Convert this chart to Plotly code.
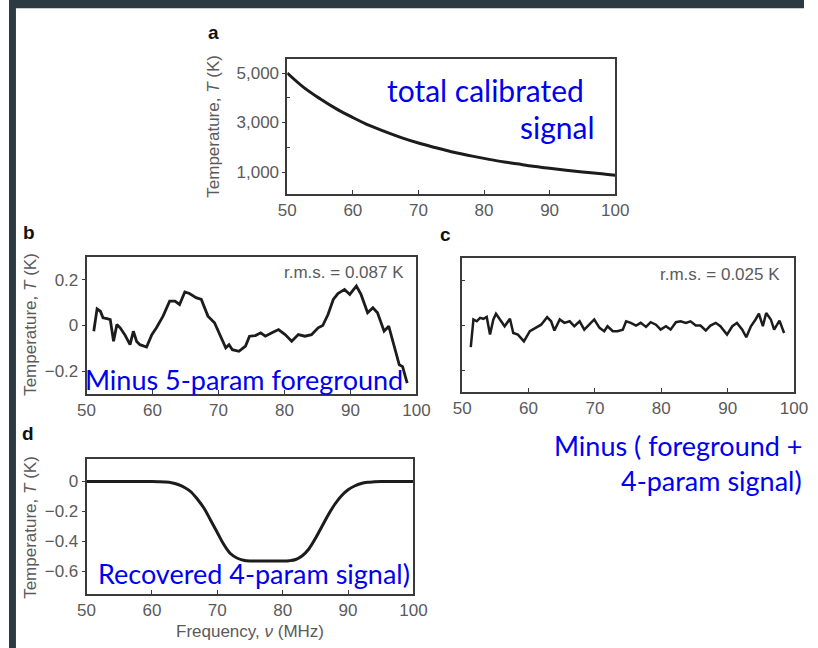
import plotly.graph_objects as go

W, H = 818, 648
OX, SX = 8.0, 0.978  # horizontal offset / scale of the page as displayed

# ---- data -------------------------------------------------------------
# a: total calibrated sky temperature (K)
freq_a = [50, 52.5, 55, 57.5, 60, 62.5, 65, 67.5, 70, 72.5, 75, 77.5, 80,
          82.5, 85, 87.5, 90, 92.5, 95, 97.5, 100]
temp_a = [5000, 4420, 3960, 3550, 3200, 2880, 2620, 2380, 2170, 1990, 1820,
          1680, 1550, 1430, 1330, 1230, 1150, 1070, 1000, 940, 870]

# b: residual after removing the 5-parameter foreground (K)
freq_b = [51.1, 51.6, 52.1, 52.5, 53.1, 53.6, 54.1, 54.6, 55.1, 55.8, 56.6,
          57.1, 57.6, 58.1, 59.1, 59.9, 60.6, 61.6, 62.6, 63.4, 64.1, 64.9,
          65.6, 66.6, 67.4, 68.4, 69.4, 70.1, 71.1, 71.6, 72.1, 73.1, 74.1,
          74.7, 75.6, 76.4, 77.1, 78.1, 79.1, 80.1, 81.1, 82.1, 83.1, 84.1,
          85.1, 85.8, 86.6, 87.4, 88.1, 89.1, 89.9, 90.9, 91.6, 92.6, 93.4,
          94.1, 95.1, 95.8, 96.6, 97.4, 97.9, 98.6]
temp_b = [-0.025, 0.073, 0.063, 0.034, 0.030, 0.026, -0.069, 0.004, -0.010,
          -0.040, -0.084, -0.025, -0.070, -0.084, -0.094, -0.040, -0.010,
          0.041, 0.107, 0.107, 0.092, 0.147, 0.140, 0.122, 0.114, 0.041,
          0.012, -0.032, -0.098, -0.084, -0.106, -0.113, -0.090, -0.047,
          -0.044, -0.032, -0.047, -0.032, -0.018, -0.040, -0.069, -0.040,
          -0.047, -0.040, -0.010, 0.000, 0.048, 0.114, 0.140, 0.158, 0.136,
          0.173, 0.136, 0.056, 0.078, 0.056, -0.025, -0.003, -0.091, -0.172,
          -0.180, -0.252]

# c: residual after removing foreground + 4-parameter signal (K)
freq_c = [51.3, 51.7, 52.2, 52.7, 53.2, 53.7, 54.2, 54.7, 55.1, 55.7, 56.4,
          57.2, 57.7, 58.4, 59.3, 60.2, 61.2, 61.9, 62.8, 63.4, 63.9, 64.7,
          65.4, 66.2, 66.9, 67.7, 68.4, 69.2, 69.9, 70.7, 71.4, 71.9, 72.7,
          73.4, 74.2, 74.7, 75.4, 76.2, 76.9, 77.7, 78.4, 79.2, 79.9, 80.7,
          81.4, 82.2, 82.9, 83.7, 84.4, 85.2, 85.9, 86.7, 87.4, 88.2, 88.9,
          89.9, 90.7, 91.4, 92.2, 92.8, 93.5, 94.2, 94.7, 95.3, 95.8, 96.5,
          97.0, 97.8, 98.5]
temp_c = [-0.096, 0.027, 0.019, 0.034, 0.030, 0.038, -0.040, 0.027, 0.052,
          0.027, -0.003, 0.030, -0.033, -0.040, -0.070, -0.025, -0.010,
          0.004, 0.037, 0.019, -0.022, 0.027, 0.012, 0.019, -0.003, 0.019,
          -0.018, 0.004, 0.027, -0.010, -0.025, -0.003, -0.025, -0.025,
          -0.018, 0.019, 0.012, 0.000, 0.012, -0.006, 0.015, 0.004, -0.018,
          -0.003, -0.018, 0.015, 0.019, 0.012, 0.019, 0.000, 0.000, -0.022,
          0.000, 0.012, -0.003, -0.040, -0.003, 0.012, -0.018, -0.052,
          -0.003, 0.027, 0.053, -0.003, 0.056, 0.027, -0.018, 0.022, -0.033]

# d: recovered 4-parameter absorption profile (K)
freq_d = list(range(50, 101))
temp_d = [0, 0, 0, 0, 0, 0, 0, 0, 0, 0, 0, -0.001, -0.003, -0.008, -0.020,
          -0.040, -0.070, -0.120, -0.180, -0.260, -0.340, -0.420, -0.480,
          -0.510, -0.525, -0.530, -0.530, -0.530, -0.530, -0.530, -0.530,
          -0.528, -0.520, -0.495, -0.450, -0.380, -0.300, -0.220, -0.150,
          -0.095, -0.055, -0.030, -0.013, -0.005, -0.002, 0, 0, 0, 0, 0, 0]

x_ticks = [50, 60, 70, 80, 90, 100]
a_ticks = [1000, 3000, 5000]
a_ticktext = ["1,000", "3,000", "5,000"]
a_minor = [2000, 4000]
bc_ticks = [-0.2, 0, 0.2]
d_ticks = [-0.6, -0.4, -0.2, 0]


def px(x):
    return (x - OX) / SX / W


def py(y):
    return 1 - y / H


LINE = "#1c1c1c"
AXC = "#3a3a3a"
TICKC = "#5a5a5a"
TFONT = dict(family="Liberation Sans, Arial, sans-serif", size=17, color=TICKC)

fig = go.Figure()
fig.add_trace(go.Scatter(x=freq_a, y=temp_a, mode="lines", xaxis="x", yaxis="y",
                         line=dict(color=LINE, width=3, shape="spline")))
fig.add_trace(go.Scatter(x=freq_b, y=temp_b, mode="lines", xaxis="x2", yaxis="y2",
                         line=dict(color=LINE, width=2.8)))
fig.add_trace(go.Scatter(x=freq_c, y=temp_c, mode="lines", xaxis="x3", yaxis="y3",
                         line=dict(color=LINE, width=2.5)))
fig.add_trace(go.Scatter(x=freq_d, y=temp_d, mode="lines", xaxis="x4", yaxis="y4",
                         line=dict(color=LINE, width=3, shape="spline")))


def xax(dom, anchor, labels=True):
    return dict(domain=dom, anchor=anchor, range=[50, 100], tickvals=x_ticks,
                showticklabels=labels, ticks="inside", ticklen=4, tickwidth=1.3,
                tickcolor=AXC, showline=True, mirror=True, linecolor=AXC,
                linewidth=1.6, showgrid=False, zeroline=False, tickfont=TFONT,
                fixedrange=True)


def yax(dom, anchor, rng, vals, text=None, labels=True):
    d = dict(domain=dom, anchor=anchor, range=rng, tickvals=vals,
             showticklabels=labels, ticks="outside", ticklen=3, tickwidth=1.3,
             tickcolor=AXC, showline=True, mirror=True, linecolor=AXC,
             linewidth=1.6, showgrid=False, zeroline=False, tickfont=TFONT,
             fixedrange=True)
    if text is not None:
        d["ticktext"] = text
    return d


layout = dict(
    width=W, height=H, margin=dict(l=0, r=0, t=0, b=0),
    paper_bgcolor="white", plot_bgcolor="rgba(0,0,0,0)", showlegend=False,
    xaxis=xax([px(288), px(618)], "y"),
    yaxis=yax([py(194), py(59)], "x", [111, 5566], a_ticks, a_ticktext),
    xaxis2=xax([px(86), px(418)], "y2"),
    yaxis2=yax([py(394), py(257)], "x2", [-0.30, 0.30], bc_ticks),
    xaxis3=xax([px(464), px(798)], "y3"),
    yaxis3=yax([py(392), py(258)], "x3", [-0.295, 0.30], bc_ticks, labels=False),
    xaxis4=xax([px(86), px(415)], "y4"),
    yaxis4=yax([py(594), py(459)], "x4", [-0.75, 0.15], d_ticks),
)
layout["yaxis"]["minor"] = dict(tickvals=a_minor, ticks="inside", ticklen=3,
                                tickcolor=AXC, tickwidth=1.3)
layout["yaxis3"]["ticks"] = "inside"
fig.update_layout(**layout)

# dark slide frame around the white page
fig.add_shape(type="rect", xref="paper", yref="paper", x0=0, x1=1,
              y0=py(8), y1=1, fillcolor="#2c3b42", line_width=0, layer="below")
fig.add_shape(type="rect", xref="paper", yref="paper", x0=0, x1=px(15),
              y0=0, y1=1, fillcolor="#2c3b42", line_width=0, layer="below")
fig.add_shape(type="line", xref="paper", yref="paper", x0=px(15), x1=1,
              y0=py(8.5), y1=py(8.5), line=dict(color="#c8cdd0", width=1))

annots = []


def note(x, y, text, size=17, color=TICKC, angle=0,
         family="Liberation Sans, Arial, sans-serif"):
    annots.append(dict(x=px(x), y=py(y), xref="paper", yref="paper", text=text,
                       showarrow=False, xanchor="center", yanchor="middle",
                       textangle=angle,
                       font=dict(family=family, size=size, color=color)))


# panel letters
for lx, ly, t in [(214, 32, "a"), (28, 233, "b"), (447, 234, "c"), (27, 433, "d")]:
    note(lx, ly, "<b>%s</b>" % t, size=19, color="#111111")

# axis titles
ytitle = "Temperature, <i>T</i> (K)"
note(214, 126, ytitle, angle=-90)
note(29, 324, ytitle, angle=-90)
note(29, 527, ytitle, angle=-90)
note(251, 631, "Frequency, <i>ν</i> (MHz)")

# r.m.s. labels
note(345, 272, "r.m.s. = 0.087 K")
note(723, 274, "r.m.s. = 0.025 K")

# blue captions
BLUE = "#0000f0"
BF = "Lato, Noto Sans, sans-serif"
note(488, 90, "total calibrated", size=30, color=BLUE, family=BF)
note(560, 127, "signal", size=30, color=BLUE, family=BF)
note(244, 379, "Minus 5-param foreground", size=27, color=BLUE, family=BF)
note(681, 445, "Minus ( foreground +", size=27, color=BLUE, family=BF)
note(715, 480, "4-param signal)", size=27, color=BLUE, family=BF)
note(255, 573, "Recovered 4-param signal)", size=27, color=BLUE, family=BF)

fig.update_layout(annotations=annots)
fig.write_html("out.html")
